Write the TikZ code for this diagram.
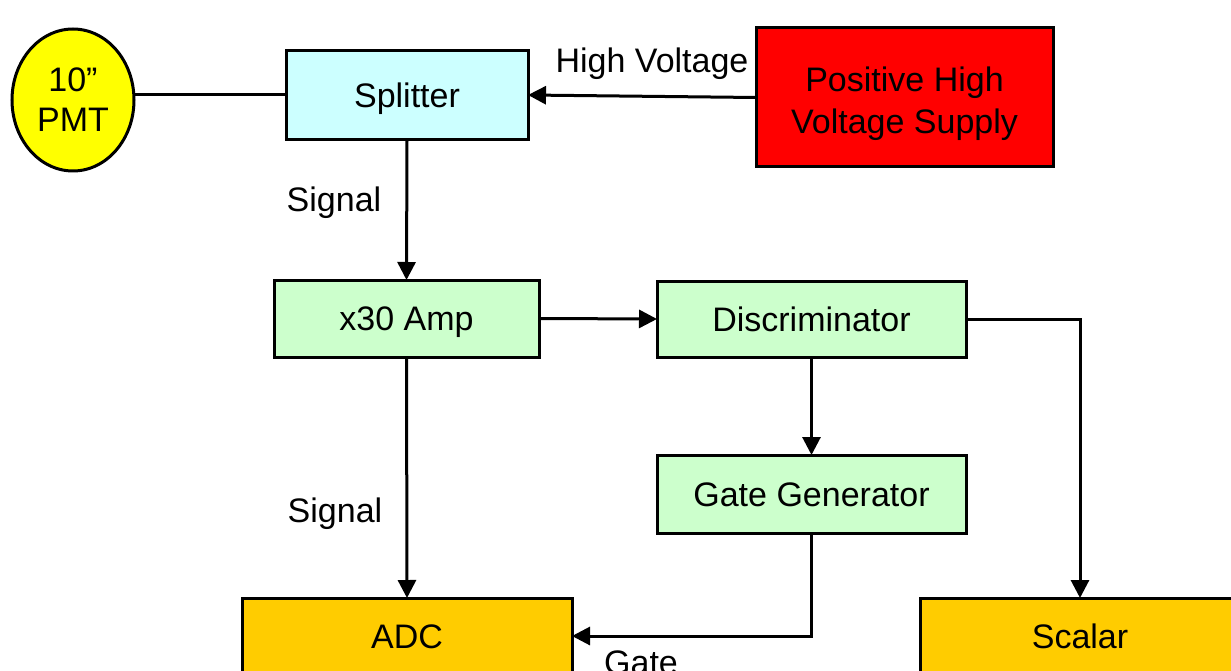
\documentclass[tikz,border=0pt]{standalone}
\usepackage{fontspec}
\setmainfont{Liberation Sans}
\usetikzlibrary{arrows.meta,shapes.geometric}
\definecolor{cyanbox}{HTML}{CCFFFF}
\definecolor{greenbox}{HTML}{CCFFCC}
\definecolor{pmtyellow}{HTML}{FFFF00}
\definecolor{hvred}{HTML}{FF0000}
\definecolor{outbox}{HTML}{FFCC00}
\begin{document}
\begin{tikzpicture}[x=1pt,y=-1pt,
  every node/.style={font=\fontsize{34}{42}\selectfont, inner sep=0pt, outer sep=0pt},
  capc/.style={text height=24.5pt, text depth=0pt},
  blk/.style={draw=black, line width=3pt, rectangle, align=center},
  conn/.style={line width=3pt, draw=black},
  arr/.style={conn, -{Triangle[length=18pt,width=18pt]}},
  lbl/.style={text=black, capc}]
\useasboundingbox (0,0) rectangle (1231,671);
\clip (0,0) rectangle (1231,671);
\fill[white] (0,0) rectangle (1231,671);

\node[draw=black, line width=3pt, ellipse, fill=pmtyellow, minimum width=122pt, minimum height=142pt, align=center, font=\fontsize{34}{40}\selectfont] (pmt) at (73,100) {10”\\PMT};
\node[blk, capc, fill=cyanbox, minimum width=242pt, minimum height=89pt] (split) at (407,95) {Splitter};
\node[blk, fill=hvred, minimum width=297pt, minimum height=139pt] (hv) at (904.5,97.5) {\rule{0pt}{38pt}Positive High\\Voltage Supply};
\node[blk, capc, fill=greenbox, minimum width=265pt, minimum height=77pt] (amp) at (406.5,318.5) {x30 Amp};
\node[blk, capc, fill=greenbox, minimum width=309pt, minimum height=76pt] (disc) at (811.5,319) {Discriminator};
\node[blk, capc, fill=greenbox, minimum width=309pt, minimum height=78pt] (gate) at (811.5,494) {Gate Generator};
\node[blk, capc, fill=outbox, minimum width=330pt, minimum height=76pt] (adc) at (407,636) {ADC};
\node[blk, capc, fill=outbox, minimum width=320pt, minimum height=76pt] (scalar) at (1080,636) {Scalar};

\coordinate (pmtr) at (pmt.east |- split.west);
\draw[conn] (split.west) -- (pmtr);
\draw[arr] (hv.west) -- (split.east);
\draw[arr] (split.south) -- (amp.north);
\draw[arr] (amp.east) -- (disc.west);
\draw[arr] (disc.south) -- (gate.north);
\draw[arr] (amp.south) -- (adc.north);
\coordinate (gcorner) at (gate.south |- adc.east);
\draw[arr] (gate.south) -- (gcorner) -- (adc.east);
\coordinate (dcorner) at (scalar.north |- disc.east);
\draw[arr] (disc.east) -- (dcorner) -- (scalar.north);

\node[lbl] (lhv) at (652,60) {High Voltage};
\node[lbl] (lsig1) at (334,199) {Signal};
\node[lbl] (lsig2) at (335,510) {Signal};
\node[lbl] (lgate) at (641,662) {Gate};
\end{tikzpicture}
\end{document}
